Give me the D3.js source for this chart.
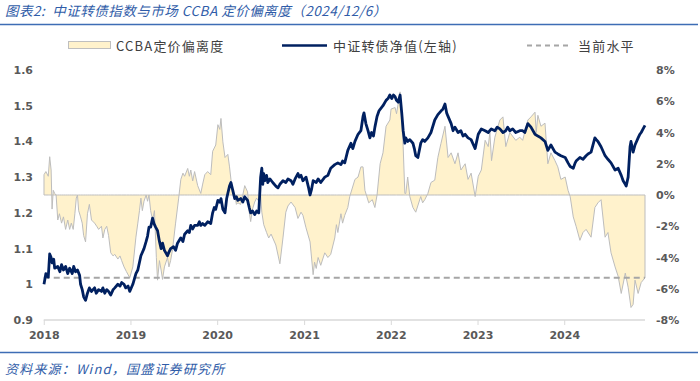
<!DOCTYPE html>
<html><head><meta charset="utf-8">
<script src="https://cdn.jsdelivr.net/npm/d3@7/dist/d3.min.js"></script>
<style>body{margin:0;background:#fff}svg{display:block}</style>
</head><body><svg id="c" width="700" height="381"></svg>
<script>
const titleText = "图表2:  中证转债指数与市场 CCBA 定价偏离度（2024/12/6）";
const sourceText = "资料来源：Wind，国盛证券研究所";
const legendLabels = ["CCBA定价偏离度", "中证转债净值(左轴)", "当前水平"];
const leftTicks = [0.9, 1.0, 1.1, 1.2, 1.3, 1.4, 1.5, 1.6];
const rightTicks = [-8, -6, -4, -2, 0, 2, 4, 6, 8];
const yearTicks = ["2018", "2019", "2020", "2021", "2022", "2023", "2024"];
const currentLevel = -5.3;
const dateRange = ["2018-01-01", "2024-12-06"];

const navSeries = [
["2018-01-02",1.00],["2018-01-10",1.03],["2018-01-20",1.02],["2018-01-26",1.085],["2018-02-01",1.075],["2018-02-05",1.06],["2018-02-12",1.07],["2018-02-16",1.045],["2018-03-01",1.05],["2018-03-10",1.035],["2018-03-17",1.055],["2018-03-25",1.04],["2018-04-03",1.05],["2018-04-12",1.03],["2018-04-20",1.045],["2018-05-01",1.03],["2018-05-07",1.05],["2018-05-15",1.035],["2018-05-23",1.04],["2018-06-01",1.025],["2018-06-05",1.00],["2018-06-12",0.985],["2018-06-18",0.965],["2018-06-26",0.955],["2018-07-04",0.975],["2018-07-12",0.99],["2018-07-21",0.98],["2018-08-03",0.99],["2018-08-10",0.975],["2018-08-20",0.985],["2018-09-01",0.98],["2018-09-07",0.99],["2018-09-15",0.975],["2018-09-23",0.985],["2018-10-01",0.98],["2018-10-10",0.97],["2018-10-20",0.985],["2018-10-27",0.99],["2018-11-09",1.00],["2018-11-18",0.995],["2018-11-25",1.005],["2018-12-05",1.0],["2018-12-12",0.99],["2018-12-22",0.995],["2018-12-29",0.98],
["2019-01-11",1.00],["2019-01-24",1.03],["2019-02-01",1.04],["2019-02-14",1.08],["2019-02-27",1.10],["2019-03-08",1.12],["2019-03-14",1.135],["2019-03-20",1.16],["2019-03-27",1.16],["2019-04-04",1.185],["2019-04-10",1.17],["2019-04-17",1.16],["2019-04-25",1.15],["2019-05-03",1.12],["2019-05-10",1.10],["2019-05-16",1.115],["2019-05-24",1.095],["2019-06-06",1.08],["2019-06-12",1.09],["2019-06-19",1.10],["2019-07-01",1.105],["2019-07-10",1.095],["2019-07-18",1.115],["2019-08-01",1.13],["2019-08-10",1.12],["2019-08-17",1.14],["2019-08-30",1.15],["2019-09-06",1.145],["2019-09-12",1.165],["2019-09-20",1.155],["2019-09-28",1.165],["2019-10-11",1.165],["2019-10-18",1.175],["2019-10-24",1.165],["2019-11-01",1.17],["2019-11-10",1.165],["2019-11-22",1.175],["2019-12-05",1.17],["2019-12-13",1.20],["2019-12-20",1.215],["2019-12-26",1.21],
["2020-01-04",1.235],["2020-01-12",1.23],["2020-01-17",1.24],["2020-01-25",1.21],["2020-02-03",1.20],["2020-02-10",1.24],["2020-02-15",1.255],["2020-02-22",1.275],["2020-02-28",1.285],["2020-03-06",1.265],["2020-03-15",1.24],["2020-03-22",1.245],["2020-03-28",1.235],["2020-04-09",1.24],["2020-04-18",1.23],["2020-04-26",1.245],["2020-05-08",1.235],["2020-05-15",1.215],["2020-05-21",1.20],["2020-05-29",1.205],["2020-06-07",1.195],["2020-06-15",1.205],["2020-06-24",1.20],["2020-07-02",1.30],["2020-07-07",1.325],["2020-07-11",1.28],["2020-07-15",1.31],["2020-07-19",1.29],["2020-07-27",1.305],["2020-08-01",1.285],["2020-08-10",1.295],["2020-08-22",1.285],["2020-09-04",1.275],["2020-09-13",1.27],["2020-09-21",1.28],["2020-10-04",1.29],["2020-10-16",1.285],["2020-10-25",1.295],["2020-11-07",1.29],["2020-11-15",1.28],["2020-11-24",1.295],["2020-12-06",1.31],["2020-12-12",1.30],["2020-12-19",1.305],["2020-12-27",1.29],
["2021-01-09",1.30],["2021-01-20",1.27],["2021-01-26",1.25],["2021-02-01",1.265],["2021-02-08",1.29],["2021-02-21",1.285],["2021-03-01",1.295],["2021-03-12",1.285],["2021-03-29",1.30],["2021-04-11",1.305],["2021-04-23",1.325],["2021-05-10",1.335],["2021-05-23",1.34],["2021-06-05",1.335],["2021-06-12",1.345],["2021-06-21",1.34],["2021-07-04",1.375],["2021-07-17",1.395],["2021-07-25",1.38],["2021-08-03",1.40],["2021-08-16",1.42],["2021-08-28",1.43],["2021-09-06",1.47],["2021-09-10",1.48],["2021-09-18",1.45],["2021-09-27",1.43],["2021-10-05",1.41],["2021-10-12",1.425],["2021-10-20",1.415],["2021-10-26",1.44],["2021-11-04",1.47],["2021-11-12",1.485],["2021-11-17",1.49],["2021-11-29",1.50],["2021-12-12",1.515],["2021-12-20",1.52],["2021-12-28",1.53],
["2022-01-05",1.52],["2022-01-12",1.53],["2022-01-19",1.525],["2022-01-25",1.515],["2022-02-01",1.51],["2022-02-09",1.53],["2022-02-16",1.48],["2022-02-22",1.43],["2022-03-01",1.395],["2022-03-05",1.41],["2022-03-13",1.40],["2022-03-22",1.405],["2022-04-04",1.395],["2022-04-10",1.38],["2022-04-16",1.36],["2022-04-25",1.355],["2022-05-07",1.395],["2022-05-15",1.405],["2022-05-24",1.40],["2022-06-06",1.41],["2022-06-19",1.425],["2022-07-05",1.46],["2022-07-18",1.475],["2022-07-31",1.485],["2022-08-08",1.49],["2022-08-17",1.505],["2022-08-24",1.48],["2022-08-30",1.47],["2022-09-12",1.45],["2022-09-20",1.43],["2022-09-28",1.44],["2022-10-11",1.425],["2022-10-23",1.43],["2022-11-01",1.415],["2022-11-10",1.42],["2022-11-22",1.41],["2022-12-05",1.405],["2022-12-15",1.39],["2022-12-22",1.38],
["2023-01-04",1.42],["2023-01-17",1.435],["2023-02-02",1.43],["2023-02-15",1.425],["2023-02-28",1.435],["2023-03-15",1.43],["2023-03-25",1.44],["2023-04-05",1.435],["2023-04-18",1.425],["2023-04-30",1.43],["2023-05-08",1.44],["2023-05-17",1.43],["2023-05-29",1.435],["2023-06-11",1.425],["2023-06-28",1.43],["2023-07-10",1.43],["2023-07-19",1.425],["2023-08-01",1.45],["2023-08-14",1.44],["2023-08-31",1.42],["2023-09-12",1.415],["2023-09-25",1.41],["2023-10-12",1.40],["2023-10-24",1.375],["2023-11-06",1.39],["2023-11-23",1.37],["2023-12-05",1.365],["2023-12-18",1.36],
["2024-01-05",1.355],["2024-01-17",1.34],["2024-01-26",1.33],["2024-02-08",1.325],["2024-02-16",1.34],["2024-02-20",1.345],["2024-03-07",1.355],["2024-03-20",1.35],["2024-04-02",1.36],["2024-04-10",1.365],["2024-04-23",1.37],["2024-05-09",1.41],["2024-05-15",1.405],["2024-05-22",1.40],["2024-06-04",1.385],["2024-06-21",1.36],["2024-07-03",1.35],["2024-07-16",1.34],["2024-08-02",1.32],["2024-08-15",1.325],["2024-08-28",1.305],["2024-09-05",1.29],["2024-09-14",1.28],["2024-09-18",1.275],["2024-09-26",1.30],["2024-10-04",1.385],["2024-10-08",1.40],["2024-10-17",1.37],["2024-10-25",1.39],["2024-11-07",1.41],["2024-11-14",1.42],["2024-11-20",1.425],["2024-11-28",1.435],["2024-12-06",1.445]
];

const ccbaSeries = [
["2018-01-02",1.3],["2018-01-10",1.5],["2018-01-20",1.2],["2018-01-26",2.45],["2018-02-01",1.6],["2018-02-05",-0.9],["2018-02-10",0.3],["2018-02-16",0.1],["2018-02-22",0.0],["2018-03-01",-1.6],["2018-03-08",-1.2],["2018-03-17",-1.8],["2018-03-25",-1.4],["2018-04-03",-2.2],["2018-04-12",-1.6],["2018-04-20",-2.2],["2018-04-27",-1.8],["2018-05-05",-2.2],["2018-05-12",-1.2],["2018-05-18",-0.2],["2018-05-23",0.0],["2018-05-28",-1.0],["2018-06-05",-1.4],["2018-06-12",-1.8],["2018-06-18",-2.6],["2018-06-26",-3.0],["2018-07-04",-1.2],["2018-07-12",-0.6],["2018-07-21",-1.6],["2018-08-03",-1.8],["2018-08-12",-2.0],["2018-08-20",-2.2],["2018-09-01",-2.0],["2018-09-07",-2.75],["2018-09-15",-2.2],["2018-09-23",-2.0],["2018-10-01",-2.6],["2018-10-10",-3.7],["2018-10-20",-3.9],["2018-10-27",-3.8],["2018-11-09",-4.1],["2018-11-18",-3.9],["2018-11-25",-4.2],["2018-12-05",-4.6],["2018-12-15",-4.9],["2018-12-29",-5.3],
["2019-01-11",-4.6],["2019-01-24",-2.7],["2019-02-01",-1.8],["2019-02-08",-1.0],["2019-02-14",-0.2],["2019-02-20",-1.0],["2019-02-27",-0.4],["2019-03-08",0.0],["2019-03-14",-0.4],["2019-03-20",0.0],["2019-03-27",-1.0],["2019-04-04",-1.6],["2019-04-12",-1.0],["2019-04-20",-4.0],["2019-04-25",-5.45],["2019-05-03",-4.2],["2019-05-10",-4.8],["2019-05-16",-5.4],["2019-05-24",-4.6],["2019-06-06",-4.0],["2019-06-12",-4.6],["2019-06-19",-4.2],["2019-06-27",-3.5],["2019-07-10",-1.8],["2019-07-23",-0.2],["2019-08-01",1.0],["2019-08-10",1.4],["2019-08-17",1.2],["2019-08-30",1.7],["2019-09-06",1.2],["2019-09-12",1.6],["2019-09-20",0.9],["2019-09-28",1.5],["2019-10-11",0.6],["2019-10-24",0.1],["2019-11-01",0.7],["2019-11-10",1.3],["2019-11-22",1.5],["2019-12-05",1.3],["2019-12-13",2.8],["2019-12-26",3.2],
["2020-01-04",4.5],["2020-01-12",4.2],["2020-01-17",4.9],["2020-01-25",3.4],["2020-02-03",2.4],["2020-02-15",2.6],["2020-02-22",1.8],["2020-02-28",1.0],["2020-03-06",0.3],["2020-03-15",0.0],["2020-03-22",-0.6],["2020-03-28",-0.5],["2020-04-09",-0.6],["2020-04-18",0.0],["2020-04-26",0.6],["2020-05-08",0.2],["2020-05-15",-1.1],["2020-05-21",-1.7],["2020-05-29",-0.9],["2020-06-07",-0.45],["2020-06-15",-0.2],["2020-06-24",-0.4],["2020-07-02",0.0],["2020-07-07",-1.1],["2020-07-15",-1.9],["2020-07-27",-2.4],["2020-08-05",-2.75],["2020-08-15",-2.5],["2020-08-22",-2.75],["2020-09-04",-3.2],["2020-09-21",-4.4],["2020-10-04",-2.75],["2020-10-16",-1.1],["2020-10-25",-0.7],["2020-11-07",-0.45],["2020-11-24",-0.8],["2020-12-06",-1.5],["2020-12-19",-1.1],["2020-12-27",-1.3],
["2021-01-09",-2.1],["2021-01-26",-3.0],["2021-02-08",-5.1],["2021-02-14",-4.3],["2021-02-21",-4.7],["2021-03-01",-4.0],["2021-03-12",-4.5],["2021-03-29",-3.7],["2021-04-11",-4.0],["2021-04-23",-3.8],["2021-05-10",-2.75],["2021-05-17",-1.9],["2021-05-23",-2.4],["2021-06-05",-1.2],["2021-06-12",-1.8],["2021-06-21",-1.3],["2021-07-04",-0.8],["2021-07-12",-0.1],["2021-08-03",1.0],["2021-08-16",1.15],["2021-08-28",1.8],["2021-09-06",1.8],["2021-09-14",0.3],["2021-09-22",-0.1],["2021-09-30",-0.5],["2021-10-15",-0.3],["2021-10-26",-0.8],["2021-11-04",0.0],["2021-11-17",2.0],["2021-11-29",2.7],["2021-12-12",4.4],["2021-12-28",4.8],
["2022-01-02",5.5],["2022-01-19",5.6],["2022-01-25",5.2],["2022-02-09",6.6],["2022-02-22",3.1],["2022-03-01",0.1],["2022-03-05",0.1],["2022-03-13",1.15],["2022-03-22",-0.1],["2022-04-04",-0.8],["2022-04-16",-1.1],["2022-05-07",-0.1],["2022-05-15",-0.5],["2022-05-24",-0.3],["2022-06-06",0.1],["2022-06-19",0.8],["2022-07-05",0.95],["2022-07-18",2.4],["2022-07-31",3.3],["2022-08-17",4.4],["2022-08-30",2.4],["2022-09-12",2.7],["2022-09-28",2.0],["2022-10-11",2.7],["2022-10-23",1.6],["2022-11-10",2.0],["2022-11-22",1.0],["2022-12-05",1.4],["2022-12-22",-0.1],
["2023-01-04",1.2],["2023-01-17",1.6],["2023-02-02",3.5],["2023-02-15",3.1],["2023-02-22",4.0],["2023-03-01",2.2],["2023-03-15",3.7],["2023-04-05",4.8],["2023-04-18",5.0],["2023-04-30",3.1],["2023-05-17",4.0],["2023-06-11",3.5],["2023-06-28",3.7],["2023-07-10",3.5],["2023-08-01",4.8],["2023-08-14",5.0],["2023-08-31",5.3],["2023-09-05",4.0],["2023-09-12",5.1],["2023-09-25",4.4],["2023-10-12",4.6],["2023-10-24",2.0],["2023-11-06",2.7],["2023-11-23",2.2],["2023-12-05",1.8],["2023-12-18",1.0],
["2024-01-05",1.15],["2024-01-17",0.3],["2024-01-26",-0.1],["2024-02-08",-1.4],["2024-02-20",-2.0],["2024-03-07",-2.9],["2024-03-20",-2.4],["2024-04-02",-2.2],["2024-04-23",-2.7],["2024-05-09",-0.8],["2024-05-22",-0.5],["2024-06-04",-0.3],["2024-06-21",-2.7],["2024-07-03",-2.4],["2024-07-16",-3.7],["2024-08-02",-4.6],["2024-08-15",-5.2],["2024-08-28",-6.3],["2024-09-14",-5.0],["2024-09-26",-5.9],["2024-10-08",-7.2],["2024-10-17",-7.0],["2024-10-25",-5.45],["2024-11-07",-6.3],["2024-11-20",-5.6],["2024-12-06",-5.3]
];

const parse = d3.timeParse("%Y-%m-%d");
const nav = navSeries.map(d => ({date: parse(d[0]), v: d[1]}));
const ccba = ccbaSeries.map(d => ({date: parse(d[0]), v: d[1]}));

const svg = d3.select("#c");
const plot = {left: 43.75, right: 645, top: 70, bottom: 320};

const x = d3.scaleTime().domain(dateRange.map(parse)).range([plot.left, plot.right]);
const yL = d3.scaleLinear().domain([0.9, 1.6]).range([plot.bottom, plot.top]);
const yR = d3.scaleLinear().domain([-8, 8]).range([plot.bottom, plot.top]);

const blue = "#2F5CA8";
const labelColor = "#595959";
const cjk = "'Noto Sans CJK SC','Noto Sans',sans-serif";
const num = "'DejaVu Sans',Verdana,sans-serif";

// title
svg.append("text").attr("x", 5).attr("y", 16)
  .attr("font-family", cjk).attr("font-size", 13.5).attr("font-style", "italic")
  .attr("letter-spacing", 0.5)
  .attr("fill", blue).attr("xml:space", "preserve").text(titleText);
svg.append("line").attr("x1", 0).attr("x2", 698).attr("y1", 24.5).attr("y2", 24.5)
  .attr("stroke", "#3D6DB5").attr("stroke-width", 1.5);

// legend
const lg = svg.append("g").attr("font-family", cjk).attr("font-size", 13).attr("fill", "#404040");
lg.append("rect").attr("x", 68.5).attr("y", 41.5).attr("width", 42).attr("height", 7)
  .attr("fill", "#FFF2CC").attr("stroke", "#BFBFBF");
lg.append("text").attr("x", 116).attr("y", 50.5).attr("letter-spacing", 1.2).text(legendLabels[0]);
lg.append("line").attr("x1", 282).attr("x2", 327).attr("y1", 45.5).attr("y2", 45.5)
  .attr("stroke", "#002060").attr("stroke-width", 2.5);
lg.append("text").attr("x", 333).attr("y", 50.5).attr("letter-spacing", 1.2).text(legendLabels[1]);
lg.append("line").attr("x1", 527).attr("x2", 568).attr("y1", 45.5).attr("y2", 45.5)
  .attr("stroke", "#A6A6A6").attr("stroke-width", 2).attr("stroke-dasharray", "5,4");
lg.append("text").attr("x", 578).attr("y", 50.5).attr("letter-spacing", 1.2).text(legendLabels[2]);

// CCBA deviation area
const area = d3.area().x(d => x(d.date)).y0(yR(0)).y1(d => yR(d.v));
svg.append("path").datum(ccba).attr("d", area)
  .attr("fill", "#FFF2CC").attr("stroke", "#BDBDBD").attr("stroke-width", 1);

// current level dashed
svg.append("line").attr("x1", plot.left).attr("x2", plot.right)
  .attr("y1", yR(currentLevel)).attr("y2", yR(currentLevel))
  .attr("stroke", "#A6A6A6").attr("stroke-width", 2).attr("stroke-dasharray", "6,4");

// nav line
const line = d3.line().x(d => x(d.date)).y(d => yL(d.v));
svg.append("path").datum(nav).attr("d", line)
  .attr("fill", "none").attr("stroke", "#002060").attr("stroke-width", 2.8)
  .attr("stroke-linejoin", "round");

// x axis
const xAxis = d3.axisBottom(x)
  .tickValues(yearTicks.map(y => parse(y + "-01-01")))
  .tickFormat(d3.timeFormat("%Y")).tickSize(5).tickPadding(6);
const gx = svg.append("g").attr("transform", `translate(0,${plot.bottom})`).call(xAxis);
gx.select(".domain").attr("stroke", "#D9D9D9").attr("stroke-width", 1.5)
  .attr("d", `M${plot.left},0H${plot.right}`);
gx.selectAll(".tick line").attr("stroke", "#D9D9D9");
gx.selectAll(".tick text").attr("fill", labelColor).attr("font-family", num)
  .attr("font-size", 11).attr("font-weight", "bold");

// left axis
const gl = svg.append("g").attr("transform", `translate(33,0)`)
  .call(d3.axisLeft(yL).tickValues(leftTicks).tickFormat(d => d3.format("~g")(d)).tickSize(0).tickPadding(0));
gl.select(".domain").remove();
gl.selectAll(".tick text").attr("fill", labelColor).attr("font-family", num)
  .attr("font-size", 11).attr("font-weight", "bold");

// right axis
const gr = svg.append("g").attr("transform", `translate(656,0)`)
  .call(d3.axisRight(yR).tickValues(rightTicks).tickFormat(d => d + "%").tickSize(0).tickPadding(0));
gr.select(".domain").remove();
gr.selectAll(".tick text").attr("fill", labelColor).attr("font-family", num)
  .attr("font-size", 11).attr("font-weight", "bold");

// footer
svg.append("line").attr("x1", 0).attr("x2", 698).attr("y1", 352.5).attr("y2", 352.5)
  .attr("stroke", "#3D6DB5").attr("stroke-width", 1.5);
svg.append("text").attr("x", 5).attr("y", 374)
  .attr("font-family", cjk).attr("font-size", 13).attr("font-style", "italic")
  .attr("letter-spacing", 1.2)
  .attr("fill", blue).text(sourceText);
</script></body></html>
